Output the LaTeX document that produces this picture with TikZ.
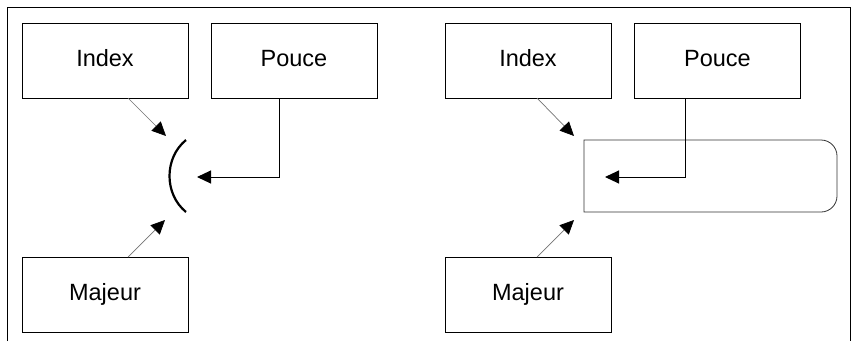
\documentclass[tikz,border=0pt]{standalone}
\usepackage{fontspec}
\setmainfont{Liberation Sans}
\usetikzlibrary{arrows.meta}
\begin{document}
\begin{tikzpicture}[x=1pt,y=-1pt,
  finger/.style={draw=black, line width=1pt, minimum width=166pt, minimum height=75pt,
    inner sep=0pt, outer sep=0pt, text height=12pt, text depth=0pt,
    font=\fontsize{23.5}{28}\selectfont},
  thinarrow/.style={draw=black!55, line width=0.7pt, -{Triangle[length=14pt,width=13pt,fill=black,color=black]}},
  thumbarrow/.style={draw=black, line width=1pt, -{Triangle[length=14pt,width=13pt]}},
  frame/.style={draw=black, line width=1pt}]
\useasboundingbox (0,0) rectangle (854,341);
\draw[frame] (7,341) -- (7,7) -- (850,7) -- (850,341);
% left diagram
\node[finger] (idxL) at (105,60.5) {Index};
\node[finger] (pouL) at (294,60.5) {Pouce};
\node[finger] (majL) at (105,294.5) {Majeur};
\coordinate (arcTop) at (186,140);
\coordinate (arcBot) at (186,212);
\draw[line width=2.2pt] (arcTop) .. controls (164,158) and (164,194) .. (arcBot);
\coordinate (tipIL) at (166,136);
\coordinate (tipML) at (165,220);
\coordinate (tipPL) at (197,177);
\coordinate (bendL) at (279,177);
\draw[thinarrow] ([xshift=23pt]idxL.south) -- (tipIL);
\draw[thinarrow] ([xshift=23pt]majL.north) -- (tipML);
\draw[thumbarrow] ([xshift=-15pt]pouL.south) -- (bendL) -- (tipPL);
% right diagram
\node[finger] (idxR) at (528,60.5) {Index};
\node[finger] (pouR) at (717.5,60.5) {Pouce};
\node[finger] (majR) at (528,294.5) {Majeur};
\node[minimum width=253pt, minimum height=72pt, inner sep=0pt, outer sep=0pt] (pad) at (710.5,176) {};
\draw[draw=black!80, line width=0.8pt] (pad.south west) -- (pad.north west)
  -- ([xshift=-16pt]pad.north east) arc[start angle=90, end angle=0, radius=16pt]
  -- ([yshift=16pt]pad.south east) arc[start angle=0, end angle=-90, radius=16pt]
  -- cycle;
\coordinate (tipIR) at (574,136);
\coordinate (tipMR) at (574,220);
\coordinate (tipPR) at (605,177);
\coordinate (bendR) at (685,177);
\draw[thinarrow] ([xshift=9pt]idxR.south) -- (tipIR);
\draw[thinarrow] ([xshift=9pt]majR.north) -- (tipMR);
\draw[thumbarrow] ([xshift=-32.5pt]pouR.south) -- (bendR) -- (tipPR);
\end{tikzpicture}
\end{document}
